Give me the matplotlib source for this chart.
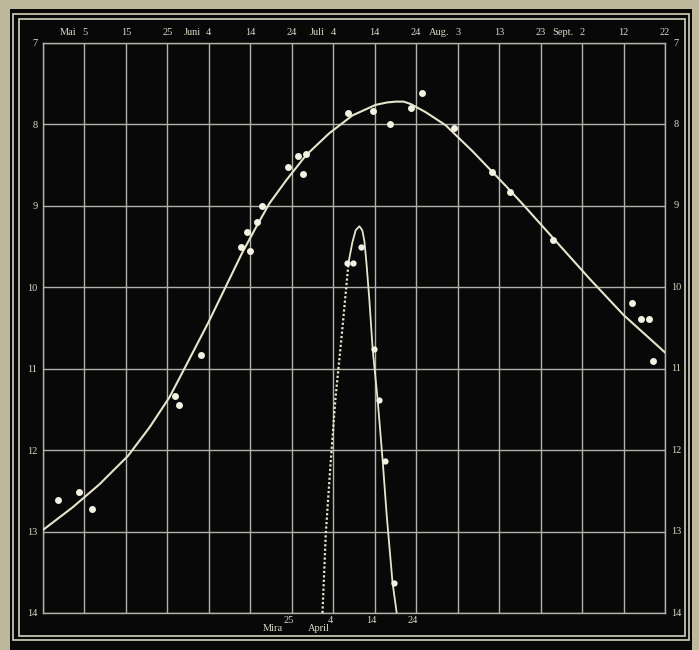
import matplotlib
matplotlib.use('Agg')
import matplotlib.pyplot as plt
from matplotlib.patches import Rectangle

# Lichtkurve (Tage ab 25. April) und Vergleich mit Mira
main_days = [3.6, 8.7, 11.9, 31.9, 32.7, 38.0, 47.8, 49.3, 50.0, 51.5, 52.9, 59.0, 61.5, 63.5,
             62.6, 73.6, 79.6, 83.8, 88.7, 91.5, 99.2, 108.3, 112.7, 122.9, 142.1, 144.2, 146.1, 147.1]
main_mags = [12.61, 12.51, 12.72, 11.33, 11.45, 10.83, 9.50, 9.32, 9.56, 9.20, 9.00, 8.52, 8.39, 8.36,
             8.61, 7.86, 7.83, 8.00, 7.80, 7.62, 8.04, 8.58, 8.83, 9.42, 10.19, 10.39, 10.39, 10.90]

curve_days = [0, 7.2, 13.6, 20.5, 25.7, 30.5, 34.5, 40, 44, 48, 51.4, 54.6, 58.6, 63.4, 69.0,
              74.6, 80.2, 83.0, 85.1, 87.0, 88.7, 92.3, 97.1, 103.6, 111.7, 115.7, 123.8, 131.9, 140.0, 150]
curve_mags = [12.98, 12.70, 12.42, 12.07, 11.72, 11.35, 10.96, 10.42, 10.0, 9.58, 9.26, 8.97, 8.69,
              8.38, 8.11, 7.89, 7.76, 7.73, 7.72, 7.72, 7.75, 7.85, 8.01, 8.33, 8.76, 8.98, 9.44, 9.90, 10.34, 10.80]

mira_days = [73.3, 74.8, 76.8, 79.8, 81.0, 82.4, 84.6]
mira_mags = [9.70, 9.70, 9.50, 10.76, 11.38, 12.13, 13.63]

mira_rise_days = [67.4, 68.2, 69.3, 70.5, 72.1, 73.7]
mira_rise_mags = [14.0, 13.02, 12.20, 11.38, 10.56, 9.69]
mira_fall_days = [73.7, 74.6, 75.4, 76.3, 77.0, 77.5, 78.0, 78.7, 79.5, 80.7, 81.9, 82.9, 84.3, 85.3]
mira_fall_mags = [9.69, 9.45, 9.30, 9.25, 9.30, 9.43, 9.70, 10.15, 10.76, 11.38, 12.12, 12.81, 13.63, 14.0]

top_ticks = list(range(0, 151, 10))
top_labels = ['', '5', '15', '25', '4', '14', '24', '4', '14', '24', '3', '13', '23', '2', '12', '22']
months = [(10, 'Mai'), (40, 'Juni'), (70, 'Juli'), (100, 'Aug.'), (130, 'Sept.')]
mira_ticks = [60, 70, 80, 90]
mira_labels = ['25', '4', '14', '24']
mag_ticks = list(range(7, 15))

W, H = 699, 650
ink = '#d8d8c6'
gridc = '#b2b2aa'
fnt = dict(family=['Liberation Serif', 'DejaVu Serif'], size=7.5, color=ink)

fig = plt.figure(figsize=(W / 100, H / 100), dpi=100)
fig.patch.set_facecolor('#bdb89c')

def px(x0, y0, x1, y1):
    return (x0 / W, 1 - y1 / H), (x1 - x0) / W, (y1 - y0) / H

xy, w, h = px(10, 9, 692, 650)
fig.add_artist(Rectangle(xy, w, h, transform=fig.transFigure, facecolor='#080808',
                         edgecolor='none', zorder=-3))
for box in [(13, 14, 689, 640), (19, 19, 685, 636)]:
    xy, w, h = px(*box)
    fig.add_artist(Rectangle(xy, w, h, transform=fig.transFigure, facecolor='none',
                             edgecolor='#d4d2bc', lw=1.2, zorder=-2))

ax = fig.add_axes([43 / W, 1 - 613 / H, (665 - 43) / W, (613 - 43) / H])
ax.set_zorder(1)
ax.set_facecolor('#080808')
ax.set_xlim(0, 150)
ax.set_ylim(14, 7)
for d in top_ticks:
    ax.axvline(d, color=gridc, lw=1.0, zorder=1)
for m in mag_ticks:
    ax.axhline(m, color=gridc, lw=1.0, zorder=1)
for s in ax.spines.values():
    s.set_color(gridc)
    s.set_linewidth(1.0)

ax.plot(curve_days, curve_mags, color='#e6e5cc', lw=1.5, zorder=3)
ax.plot(main_days, main_mags, 'o', color='#f2f1e2', ms=5, mec='none', zorder=4)
ax.plot(mira_rise_days, mira_rise_mags, color='#e6e5cc', lw=1.6, ls=(0, (1, 1)), zorder=3)
ax.plot(mira_fall_days, mira_fall_mags, color='#e6e5cc', lw=1.3, zorder=3)
ax.plot(mira_days, mira_mags, 'o', color='#f2f1e2', ms=4.5, mec='none', zorder=4)

ax.set_xticks(top_ticks)
ax.set_xticklabels(top_labels, **fnt)
ax.set_yticks(mag_ticks)
ax.set_yticklabels([str(m) for m in mag_ticks], **fnt)
ax.tick_params(top=True, labeltop=True, bottom=False, labelbottom=False,
               left=False, right=False, labelleft=True, labelright=False, length=0, pad=4)

# Skala rechts
for m in mag_ticks:
    ax.annotate(str(m), (1, m), xycoords=('axes fraction', 'data'), xytext=(8, 0),
                textcoords='offset points', ha='center', va='center', **fnt)

# Monatsnamen oben
for d, name in months:
    ax.annotate(name, (d, 1), xycoords=('data', 'axes fraction'), xytext=(-6, 4),
                textcoords='offset points', ha='right', va='bottom', **fnt)

# Mira-Skala unten
for d, lab in zip(mira_ticks, mira_labels):
    ax.text(d - 0.8, 14.09, lab, ha='center', va='center', clip_on=False, **fnt)
ax.text(55.5, 14.19, 'Mira', ha='center', va='center', clip_on=False, **fnt)
ax.text(66.5, 14.19, 'April', ha='center', va='center', clip_on=False, **fnt)

fig.savefig('out.png', dpi=100, facecolor=fig.get_facecolor())
